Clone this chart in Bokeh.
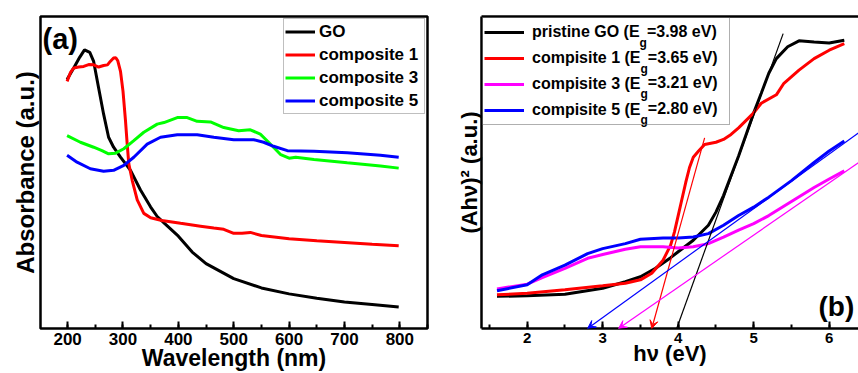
from bokeh.plotting import figure
from bokeh.layouts import row
from bokeh.models import (Legend, LegendItem, Label, Arrow, VeeHead, SingleIntervalTicker,
                          FixedTicker, LinearAxis, Range1d)
from bokeh.core.properties import value
from bokeh.embed import file_html
from bokeh.resources import INLINE

# ---------------- panel (a): UV-vis absorbance ----------------
go_wl = [199, 211, 222, 230.5, 240, 247, 256, 265, 274, 283, 295.5, 313.6, 331.6, 349.7, 361.8,
         375, 400, 425, 450, 500, 550, 600, 650, 700, 750, 798]
go_abs = [0.798, 0.835, 0.870, 0.893, 0.885, 0.856, 0.771, 0.687, 0.613, 0.581, 0.549, 0.507, 0.444,
          0.390, 0.359, 0.337, 0.296, 0.245, 0.208, 0.160, 0.130, 0.111, 0.097, 0.085, 0.077, 0.069]

c1_wl = [199, 205, 211, 220, 229, 238, 247, 256, 265, 272, 277, 283, 287, 290.6, 295.5, 300, 304.5,
         307.6, 310.5, 316.6, 325.7, 337.6, 350, 370, 404, 440, 464, 482, 500, 515, 530, 550, 600,
         650, 700, 750, 798]
c1_abs = [0.792, 0.820, 0.835, 0.838, 0.840, 0.846, 0.845, 0.838, 0.843, 0.845, 0.856, 0.867, 0.868,
          0.858, 0.824, 0.761, 0.666, 0.591, 0.528, 0.475, 0.412, 0.369, 0.355, 0.346, 0.337, 0.328,
          0.322, 0.318, 0.305, 0.305, 0.308, 0.298, 0.288, 0.281, 0.276, 0.270, 0.265]

c3_wl = [199, 223, 247, 262, 274, 286.5, 301.5, 319.5, 337.6, 361.8, 374, 398, 416, 434, 458, 482,
         509, 530, 548, 563, 585, 600, 612, 645, 705, 765, 798]
c3_abs = [0.618, 0.597, 0.581, 0.570, 0.560, 0.562, 0.576, 0.602, 0.629, 0.655, 0.660, 0.676, 0.676,
          0.664, 0.662, 0.644, 0.634, 0.637, 0.623, 0.597, 0.557, 0.546, 0.549, 0.542, 0.531, 0.521, 0.514]

c5_wl = [199, 217, 241, 265, 283, 301.5, 319.5, 343.7, 367.8, 398, 434, 464, 500, 536, 554, 572, 597,
         645, 705, 765, 798]
c5_abs = [0.555, 0.533, 0.512, 0.504, 0.507, 0.523, 0.549, 0.591, 0.613, 0.621, 0.621, 0.613, 0.605,
          0.605, 0.597, 0.584, 0.570, 0.568, 0.563, 0.555, 0.549]

a_names = ["GO", "composite 1", "composite 3", "composite 5"]
a_colors = ["#000000", "#ff0000", "#00ff00", "#0000ff"]

# ---------------- panel (b): Tauc plot ----------------
b_go_x = [1.6, 2.0, 2.5, 3.0, 3.3, 3.5, 3.7, 3.9, 4.0, 4.2, 4.4, 4.5, 4.6, 4.8, 5.0, 5.1, 5.2, 5.3,
          5.45, 5.6, 5.8, 6.0, 6.2]
b_go_y = [10.3, 10.5, 11.0, 12.9, 15.0, 16.6, 19.3, 22.7, 24.6, 28.3, 33.1, 37.3, 42.6, 55.3, 69.1,
          75.4, 81.8, 86.5, 90.3, 92.2, 91.8, 91.5, 92.4]

b_c1_x = [1.6, 2.0, 2.5, 3.0, 3.3, 3.5, 3.65, 3.8, 3.9, 3.95, 4.0, 4.05, 4.1, 4.15, 4.2, 4.27, 4.35,
          4.5, 4.6, 4.7, 4.8, 5.0, 5.1, 5.3, 5.4, 5.6, 5.8, 6.0, 6.2]
b_c1_y = [10.8, 11.3, 12.4, 13.7, 14.5, 15.6, 17.7, 21.9, 26.7, 30.9, 36.2, 41.5, 46.8, 51.6, 54.9,
          56.9, 59.0, 59.7, 60.6, 62.2, 64.3, 69.1, 72.2, 74.9, 78.6, 82.8, 86.5, 89.2, 91.3]

b_c3_x = [1.6, 2.0, 2.2, 2.5, 2.8, 3.0, 3.3, 3.5, 3.8, 4.0, 4.2, 4.4, 4.6, 4.8, 5.0, 5.2, 5.5, 5.8,
          6.0, 6.2]
b_c3_y = [12.7, 14.2, 16.3, 19.3, 22.5, 23.7, 25.4, 26.2, 26.2, 25.8, 26.2, 27.2, 29.3, 31.5, 33.6,
          36.2, 40.7, 45.2, 47.9, 50.5]

b_c5_x = [1.6, 2.0, 2.2, 2.5, 2.8, 3.0, 3.3, 3.5, 3.8, 4.0, 4.2, 4.4, 4.6, 4.8, 5.0, 5.2, 5.5, 5.8,
          6.0, 6.2]
b_c5_y = [12.1, 14.0, 17.2, 20.3, 24.0, 25.6, 27.2, 28.6, 29.0, 29.0, 29.3, 30.4, 33.1, 36.2, 38.9,
          42.1, 47.4, 53.2, 56.9, 60.1]

b_names = ["pristine GO", "compisite 1", "compisite 3", "compisite 5"]
b_colors = ["#000000", "#ff0000", "#ff00ff", "#0000ff"]
band_gap = [3.98, 3.65, 3.21, 2.80]          # x-intercepts of the linear fits (eV)
fit_top_x = [5.39, 4.35, 6.39, 6.39]         # upper end of each fit line
fit_top_y = [94.5, 61.1, 53.2, 62.7]

FONT = "Liberation Sans"

# Arial/Liberation Sans Bold advance widths (per em) for legend text layout
ADV = {"p": .611, "r": .389, "i": .278, "s": .556, "t": .333, "n": .611, "e": .556, " ": .278,
       "G": .778, "O": .778, "(": .333, "E": .667, "c": .556, "o": .611, "m": .889, "g": .611,
       "=": .584, ".": .278, "V": .667, ")": .333}


def text_w(s, size):
    return sum(ADV.get(ch, .556) for ch in s) * size


def style_axis_fonts(ax, tick_size, label_size):
    ax.major_label_text_font = FONT
    ax.major_label_text_font_style = "bold"
    ax.major_label_text_font_size = tick_size
    ax.major_label_text_color = "black"
    ax.axis_label_text_font = FONT
    ax.axis_label_text_font_style = "bold"
    ax.axis_label_text_font_size = label_size
    ax.axis_label_text_color = "black"


def bold_label(x, y, text, size, align="left", baseline="alphabetic"):
    return Label(x=x, y=y, text=text, text_font=FONT, text_font_style="bold",
                 text_font_size=size, text_align=align, text_baseline=baseline,
                 text_color="black", level="overlay")


# ================= figure (a) =================
XA = (151, 850)
YA = (0, 1)
FA_L, FA_T, FA_W, FA_H = 40, 13, 387, 315    # frame in window pixels


def px_to_a(px, py):
    x = XA[0] + (px - FA_L) / FA_W * (XA[1] - XA[0])
    y = YA[0] + (FA_T + FA_H - py) / FA_H * (YA[1] - YA[0])
    return x, y


pa = figure(width=445, height=373, x_range=Range1d(*XA), y_range=Range1d(*YA),
            output_backend="svg", toolbar_location=None,
            min_border_left=40, min_border_right=18, min_border_top=13, min_border_bottom=45)
pa.xgrid.visible = False
pa.ygrid.visible = False
pa.outline_line_color = "black"
pa.outline_line_width = 2.5
pa.outline_line_alpha = 1.0

xa = pa.xaxis[0]
xa.ticker = SingleIntervalTicker(interval=100, num_minor_ticks=2)
xa.axis_line_color = None
xa.major_tick_in = 7
xa.major_tick_out = 0
xa.minor_tick_in = 4
xa.minor_tick_out = 0
xa.major_tick_line_width = 2
xa.minor_tick_line_width = 2
xa.major_label_standoff = 4
xa.axis_label = "Wavelength (nm)"
xa.axis_label_standoff = -3
style_axis_fonts(xa, "17px", "23px")

ya = pa.yaxis[0]
ya.ticker = FixedTicker(ticks=[])
ya.axis_line_color = None
ya.major_tick_line_color = None
ya.minor_tick_line_color = None
ya.axis_label = "Absorbance (a.u.)"
ya.axis_label_standoff = 2
style_axis_fonts(ya, "0px", "24px")

a_data = [(go_wl, go_abs), (c1_wl, c1_abs), (c3_wl, c3_abs), (c5_wl, c5_abs)]
a_items = []
for (xs, ys), name, col in zip(a_data, a_names, a_colors):
    r = pa.line(xs, ys, line_color=col, line_width=3)
    a_items.append(LegendItem(label=value(name), renderers=[r]))

leg_a = Legend(items=a_items, location="top_right", margin=2, padding=1, spacing=0,
               glyph_width=30, glyph_height=23, label_height=23, label_width=104,
               label_standoff=4, label_text_font=FONT, label_text_font_style="bold",
               label_text_font_size="17px", label_text_color="black",
               border_line_color="#808080", border_line_width=1,
               background_fill_color="white", background_fill_alpha=1.0)
pa.add_layout(leg_a)

lx, ly = px_to_a(42, 36)
pa.add_layout(bold_label(lx, ly, "(a)", "29px"))

# ================= figure (b) =================
XB = (1.395, 6.388)
YB = (0, 100)
FB_L, FB_T, FB_W, FB_H = 481, 16, 377, 315   # frame in window pixels


def px_to_b(px, py):
    x = XB[0] + (px - FB_L) / FB_W * (XB[1] - XB[0])
    y = YB[0] + (FB_T + FB_H - py) / FB_H * (YB[1] - YB[0])
    return x, y


pb = figure(width=413, height=373, x_range=Range1d(*XB), y_range=Range1d(*YB),
            output_backend="svg", toolbar_location=None,
            min_border_left=36, min_border_right=0, min_border_top=16, min_border_bottom=42)
pb.xgrid.visible = False
pb.ygrid.visible = False
pb.outline_line_color = None

xb = pb.xaxis[0]
xb.ticker = SingleIntervalTicker(interval=1, num_minor_ticks=2)
xb.axis_line_width = 2.5
xb.major_tick_in = 7
xb.major_tick_out = 0
xb.minor_tick_in = 4
xb.minor_tick_out = 0
xb.major_tick_line_width = 2
xb.minor_tick_line_width = 2
xb.major_label_standoff = 4
xb.axis_label = "hν (eV)"
xb.axis_label_standoff = -5
style_axis_fonts(xb, "15px", "22px")

yb = pb.yaxis[0]
yb.ticker = FixedTicker(ticks=[])
yb.axis_line_width = 2.5
yb.major_tick_line_color = None
yb.minor_tick_line_color = None
yb.axis_label = "(Ahν)² (a.u.)"
yb.axis_label_standoff = 0
style_axis_fonts(yb, "0px", "22px")

top_ax = LinearAxis(ticker=FixedTicker(ticks=[]), axis_line_width=2.5,
                    major_tick_line_color=None, minor_tick_line_color=None,
                    major_label_text_font_size="0px")
pb.add_layout(top_ax, "above")

b_data = [(b_go_x, b_go_y), (b_c1_x, b_c1_y), (b_c3_x, b_c3_y), (b_c5_x, b_c5_y)]
b_items = []
for (xs, ys), name, col in zip(b_data, b_names, b_colors):
    r = pb.line(xs, ys, line_color=col, line_width=3)
    b_items.append(LegendItem(label=value(name + " (E"), renderers=[r]))

# linear fits extrapolated to the energy axis
for eg, fx, fy, col, i in zip(band_gap, fit_top_x, fit_top_y, b_colors, range(4)):
    head = None if i == 0 else VeeHead(size=8, line_color=col, fill_color=col, line_width=1)
    pb.add_layout(Arrow(end=head, x_start=fx, y_start=fy, x_end=eg, y_end=YB[0],
                        line_color=col, line_width=1.2))

# legend (b): transparent fill so the subscript / value texts stay visible
LEG_M, LEG_P, LEG_GW, LEG_ST, LEG_H = 1, 1, 40, 8, 26
leg_b = Legend(items=b_items, location="top_left", margin=LEG_M, padding=LEG_P, spacing=0,
               glyph_width=LEG_GW, glyph_height=LEG_H, label_height=LEG_H, label_width=196,
               label_standoff=LEG_ST, label_text_font=FONT, label_text_font_style="bold",
               label_text_font_size="16px", label_text_color="black",
               border_line_color="#606060", border_line_width=1,
               background_fill_alpha=0.0)
pb.add_layout(leg_b)

text_x0 = FB_L + LEG_M + LEG_P + LEG_GW + LEG_ST
for i, (name, eg) in enumerate(zip(b_names, band_gap)):
    cy = FB_T + LEG_M + LEG_P + LEG_H / 2 + LEG_H * i
    x_g = text_x0 + text_w(name + " (E", 16) + 0.5
    gx, gy = px_to_b(x_g, cy + 11.5)
    pb.add_layout(bold_label(gx, gy, "g", "12px"))
    rx, ry = px_to_b(x_g + text_w("g", 12), cy)
    pb.add_layout(bold_label(rx, ry, "=%.2f eV)" % eg, "16px", baseline="middle"))

bx, by = px_to_b(818.0, 309)
pb.add_layout(bold_label(bx, by, "(b)", "28px"))

layout = row(pa, pb)
open("out.html", "w").write(file_html(layout, INLINE))
